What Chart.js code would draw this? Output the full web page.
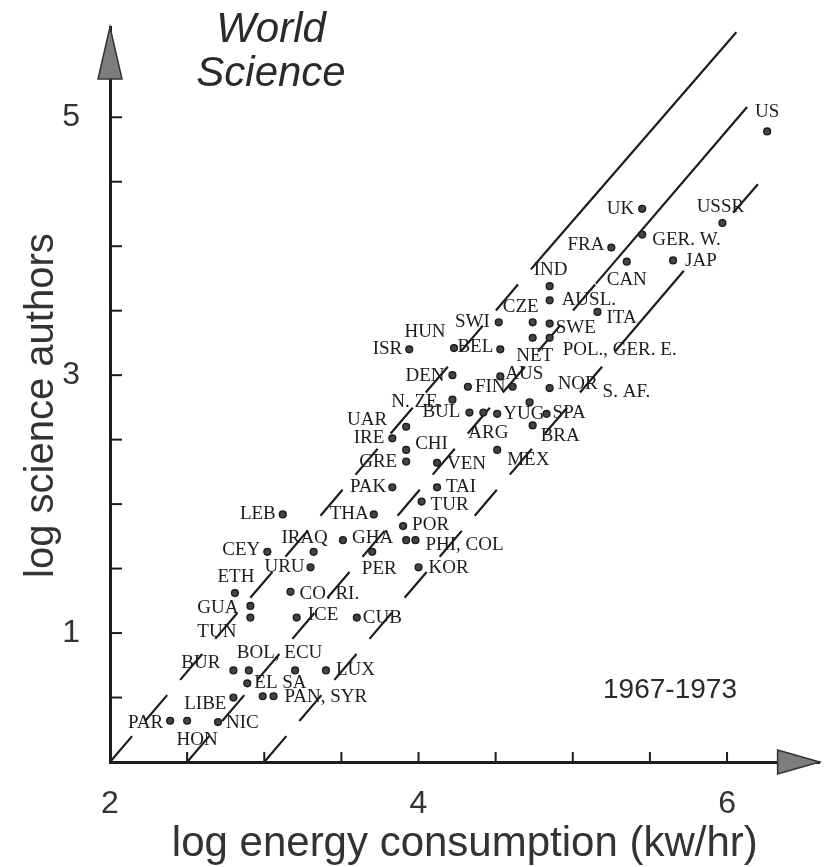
<!DOCTYPE html>
<html>
<head>
<meta charset="utf-8">
<script src="https://cdn.jsdelivr.net/npm/chart.js@4.4.1/dist/chart.umd.min.js"></script>
<style>
  html, body { margin: 0; padding: 0; background: #fff; }
  canvas { display: block; }
</style>
</head>
<body>
<canvas id="myChart" width="825" height="867"></canvas>
<script>
// countries, log energy consumption (x) and log science authors (y)
let countries = ["US", "UK", "GER. W.", "FRA", "CAN", "JAP", "USSR", "IND", "AUSL.", "ITA",
  "SWE", "CZE", "NET", "POL.", "SWI", "BEL", "HUN", "ISR", "DEN", "AUS",
  "FIN", "GER. E.", "NOR", "N. ZE.", "UAR", "BUL", "ARG", "YUG", "S. AF.", "SPA",
  "BRA", "IRE", "CHI", "MEX", "GRE", "VEN", "PAK", "TAI", "TUR", "LEB",
  "THA", "POR", "GHA", "PHI", "COL", "IRAQ", "PER", "CEY", "URU", "KOR",
  "ETH", "CO. RI.", "GUA", "TUN", "ICE", "CUB", "BUR", "BOL", "ECU", "LUX",
  "EL SA", "LIBE", "PAN", "SYR", "PAR", "HON", "NIC"];
let energy = [6.26, 5.45, 5.45, 5.25, 5.35, 5.65, 5.97, 4.85, 4.85, 5.16,
  4.85, 4.74, 4.74, 4.85, 4.52, 4.53, 4.23, 3.94, 4.22, 4.53,
  4.32, 4.61, 4.85, 4.22, 3.92, 4.33, 4.42, 4.51, 4.72, 4.83,
  4.74, 3.83, 3.92, 4.51, 3.92, 4.12, 3.83, 4.12, 4.02, 3.12,
  3.71, 3.90, 3.51, 3.92, 3.98, 3.32, 3.70, 3.02, 3.30, 4.00,
  2.81, 3.17, 2.91, 2.91, 3.21, 3.60, 2.80, 2.90, 3.20, 3.40,
  2.89, 2.80, 2.99, 3.06, 2.39, 2.50, 2.70];
let authors = [4.89, 4.29, 4.09, 3.99, 3.88, 3.89, 4.18, 3.69, 3.58, 3.49,
  3.40, 3.41, 3.29, 3.29, 3.41, 3.20, 3.21, 3.20, 3.00, 2.99,
  2.91, 2.91, 2.90, 2.81, 2.60, 2.71, 2.71, 2.70, 2.79, 2.70,
  2.61, 2.51, 2.42, 2.42, 2.33, 2.32, 2.13, 2.13, 2.02, 1.92,
  1.92, 1.83, 1.72, 1.72, 1.72, 1.63, 1.63, 1.63, 1.51, 1.51,
  1.31, 1.32, 1.21, 1.12, 1.12, 1.12, 0.71, 0.71, 0.71, 0.71,
  0.61, 0.50, 0.51, 0.51, 0.32, 0.32, 0.31];
// tag printed next to each dot ('' where a neighbour carries a shared tag)
let tags = countries.map(c => c);
tags[countries.indexOf("POL.")] = "POL., GER. E.";
tags[countries.indexOf("GER. E.")] = "";
tags[countries.indexOf("COL")] = "PHI, COL";
tags[countries.indexOf("PHI")] = "";
tags[countries.indexOf("BOL")] = "BOL, ECU";
tags[countries.indexOf("ECU")] = "";
tags[countries.indexOf("SYR")] = "PAN, SYR";
tags[countries.indexOf("PAN")] = "";

// the three parallel guide lines: [x, y] points
let guideA = [[2.0, 0], [4.8, 3.92], [6.06, 5.66]];
let guideB = [[2.5, 0], [5.15, 3.71], [6.13, 5.08]];
let guideC = [[3.0, 0], [5.35, 3.29], [5.72, 3.81], [5.88, null], [6.04, 4.26], [6.2, 4.48]];

let xTickLabels = [2, 4, 6];
let yTickLabels = [1, 3, 5];
let xTickMarks = [2.5, 3, 3.5, 4, 4.5, 5, 5.5, 6];
let yTickMarks = [0.5, 1, 1.5, 2, 2.5, 3, 3.5, 4, 4.5, 5];

// where each tag sits relative to its dot: [dx, dy, align]
let tagPlace = {
  "US": [0, -19, "center"], "UK": [-8, 0, "right"], "GER. W.": [10, 5, "left"],
  "FRA": [-7, -2, "right"], "CAN": [0, 18, "center"], "JAP": [12, 1, "left"],
  "USSR": [-2, -16, "center"], "IND": [1, -16, "center"], "AUSL.": [12, 0, "left"],
  "ITA": [9, 6, "left"], "SWE": [6, 4, "left"], "CZE": [-12, -15, "center"],
  "NET": [2, 18, "center"], "POL.": [13, 12, "left"], "SWI": [-9, 0, "right"],
  "BEL": [-7, -2, "right"], "HUN": [-29, -16, "center"], "ISR": [-7, 0, "right"],
  "DEN": [-8, 1, "right"], "AUS": [5, -2, "left"], "FIN": [7, 0, "left"],
  "NOR": [8, -4, "left"], "N. ZE.": [-10, 2, "right"], "UAR": [-19, -7, "right"],
  "BUL": [-9, -1, "right"], "ARG": [5, 20, "center"], "YUG": [6, 0, "left"],
  "S. AF.": [73, -10, "left"], "SPA": [6, -1, "left"], "BRA": [8, 11, "left"],
  "IRE": [-8, 0, "right"], "CHI": [9, -6, "left"], "MEX": [10, 10, "left"],
  "GRE": [-9, 0, "right"], "VEN": [10, 1, "left"], "PAK": [-6, 0, "right"],
  "TAI": [9, 0, "left"], "TUR": [9, 3, "left"], "LEB": [-7, 0, "right"],
  "THA": [-5, 0, "right"], "POR": [9, -1, "left"], "GHA": [9, -2, "left"],
  "COL": [10, 5, "left"], "IRAQ": [-9, -14, "center"], "PER": [7, 17, "center"],
  "CEY": [-7, -2, "right"], "URU": [-6, 0, "right"], "KOR": [10, 1, "left"],
  "ETH": [1, -16, "center"], "CO. RI.": [9, 2, "left"], "GUA": [-12, 2, "right"],
  "TUN": [-14, 14, "right"], "ICE": [11, -3, "left"], "CUB": [6, 0, "left"],
  "BUR": [-13, -7, "right"], "BOL": [-12, -17, "left"], "LUX": [10, 0, "left"],
  "EL SA": [7, 0, "left"], "LIBE": [-7, 6, "right"], "SYR": [11, 1, "left"],
  "PAR": [-7, 2, "right"], "HON": [10, 19, "center"], "NIC": [8, 1, "left"]
};

const ink = "#1c1c1c";
const sans = "'Liberation Sans', Arial, sans-serif";
const serif = "'Liberation Serif', 'Times New Roman', serif";

function toPoints(pairs) {
  return pairs.map(p => ({ x: p[0], y: p[1] }));
}

function guideLine(pairs) {
  return {
    type: "line",
    data: toPoints(pairs),
    borderColor: ink,
    borderWidth: 2.2,
    pointRadius: 0,
    showLine: true,
    spanGaps: false,
    clip: false,
    segment: {
      borderDash: ctx => ctx.p0DataIndex === 0 ? [34, 20] : []
    }
  };
}

function pickLabel(list) {
  return v => list.some(t => Math.abs(t - v) < 1e-6) ? String(Math.round(v)) : null;
}

const figureExtras = {
  id: "figureExtras",
  afterDatasetsDraw(chart) {
    const ctx = chart.ctx;
    const area = chart.chartArea;
    const xs = chart.scales.x;
    const ys = chart.scales.y;
    ctx.save();

    // inward tick marks
    ctx.strokeStyle = ink;
    ctx.lineWidth = 2;
    xTickMarks.forEach(v => {
      const px = xs.getPixelForValue(v);
      ctx.beginPath();
      ctx.moveTo(px, area.bottom);
      ctx.lineTo(px, area.bottom - 10);
      ctx.stroke();
    });
    yTickMarks.forEach(v => {
      const py = ys.getPixelForValue(v);
      ctx.beginPath();
      ctx.moveTo(area.left, py);
      ctx.lineTo(area.left + 12, py);
      ctx.stroke();
    });

    // arrow heads
    ctx.fillStyle = "#7d7d7d";
    ctx.strokeStyle = "#333";
    ctx.lineWidth = 1.5;
    ctx.beginPath();
    ctx.moveTo(area.left, area.top);
    ctx.lineTo(area.left - 12, area.top + 52);
    ctx.lineTo(area.left + 12, area.top + 52);
    ctx.closePath();
    ctx.fill();
    ctx.stroke();
    ctx.beginPath();
    ctx.moveTo(area.right, area.bottom);
    ctx.lineTo(area.right - 42, area.bottom - 12);
    ctx.lineTo(area.right - 42, area.bottom + 12);
    ctx.closePath();
    ctx.fill();
    ctx.stroke();

    // country tags
    const meta = chart.getDatasetMeta(0);
    ctx.fillStyle = ink;
    ctx.font = "19px " + serif;
    ctx.textBaseline = "middle";
    meta.data.forEach((pt, i) => {
      const text = tags[i];
      if (!text) return;
      const place = tagPlace[countries[i]] || [8, 0, "left"];
      ctx.textAlign = place[2];
      ctx.fillText(text, pt.x + place[0], pt.y + place[1]);
    });

    // heading and period
    ctx.fillStyle = "#2a2a2a";
    ctx.textAlign = "center";
    ctx.font = "italic 42px " + sans;
    ctx.fillText("World", 271, 30);
    ctx.fillText("Science", 271, 74);
    ctx.font = "28px " + sans;
    ctx.fillText("1967-1973", 670, 690);
    ctx.restore();
  }
};

function createChart() {
  new Chart("myChart", {
    type: "scatter",
    data: {
      datasets: [
        {
          data: energy.map((x, i) => ({ x: x, y: authors[i] })),
          pointRadius: 3.4,
          pointBackgroundColor: "#444",
          pointBorderColor: ink,
          pointBorderWidth: 1.4
        },
        guideLine(guideA),
        guideLine(guideB),
        guideLine(guideC)
      ]
    },
    options: {
      responsive: false,
      animation: false,
      events: [],
      layout: { padding: { left: 0, top: 27, right: 5, bottom: 0 } },
      plugins: {
        legend: { display: false },
        tooltip: { enabled: false }
      },
      scales: {
        x: {
          type: "linear",
          min: 2,
          max: 6.6,
          afterFit: s => { s.height = 105; s.paddingLeft = 0; s.paddingRight = 0; },
          grid: { display: false },
          border: { display: true, color: ink, width: 3 },
          ticks: {
            stepSize: 0.5,
            autoSkip: false,
            maxRotation: 0,
            padding: 15,
            color: "#333",
            font: { family: sans, size: 32 },
            callback: pickLabel(xTickLabels)
          },
          title: {
            display: true,
            text: "log energy consumption (kw/hr)",
            color: "#333",
            font: { family: sans, size: 42 },
            padding: { top: 0, bottom: -3 }
          }
        },
        y: {
          type: "linear",
          min: 0,
          max: 5.7,
          afterFit: s => { s.width = 110; s.paddingTop = 0; s.paddingBottom = 0; },
          grid: { display: false },
          border: { display: true, color: ink, width: 3 },
          ticks: {
            stepSize: 0.5,
            autoSkip: false,
            padding: 22,
            color: "#333",
            font: { family: sans, size: 32 },
            callback: pickLabel(yTickLabels)
          },
          title: {
            display: true,
            text: "log science authors  ",
            color: "#333",
            font: { family: sans, size: 40 },
            padding: { top: 18, bottom: 0 }
          }
        }
      }
    },
    plugins: [figureExtras]
  });
}

createChart();
</script>
</body>
</html>
